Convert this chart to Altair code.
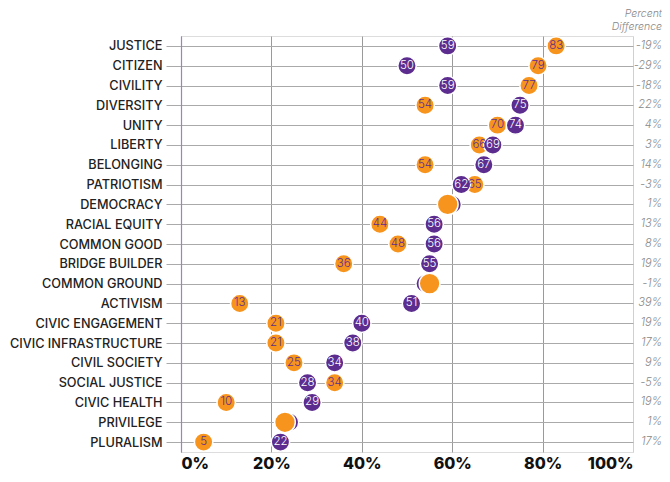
import altair as alt
import pandas as pd

categories = ["JUSTICE", "CITIZEN", "CIVILITY", "DIVERSITY", "UNITY", "LIBERTY",
              "BELONGING", "PATRIOTISM", "DEMOCRACY", "RACIAL EQUITY", "COMMON GOOD",
              "BRIDGE BUILDER", "COMMON GROUND", "ACTIVISM", "CIVIC ENGAGEMENT",
              "CIVIC INFRASTRUCTURE", "CIVIL SOCIETY", "SOCIAL JUSTICE", "CIVIC HEALTH",
              "PRIVILEGE", "PLURALISM"]
purple_vals = [59, 50, 59, 75, 74, 69, 67, 62, 60, 56, 56, 55, 54, 51, 40, 38, 34, 28, 29, 24, 22]
orange_vals = [83, 79, 77, 54, 70, 66, 54, 65, 59, 44, 48, 36, 55, 13, 21, 21, 25, 34, 10, 23, 5]
pct_diff = ["-19%", "-29%", "-18%", "22%", "4%", "3%", "14%", "-3%", "1%", "13%", "8%",
            "19%", "-1%", "39%", "19%", "17%", "9%", "-5%", "19%", "1%", "17%"]
x_ticks = [0, 20, 40, 60, 80, 100]
tied = ["DEMOCRACY", "COMMON GROUND", "PRIVILEGE"]

PURPLE = "#5c2d8f"
ORANGE = "#f7941d"

rows = []
for c, p, o in zip(categories, purple_vals, orange_vals):
    is_tied = c in tied
    rows.append({"cat": c, "series": "P", "val": p, "ord": 1 if is_tied else 2,
                 "tied": is_tied, "lbl": "" if is_tied else str(p)})
    rows.append({"cat": c, "series": "O", "val": o, "ord": 2 if is_tied else 1,
                 "tied": is_tied, "lbl": "" if is_tied else str(o)})
df = pd.DataFrame(rows)
df_diff = pd.DataFrame({"cat": categories, "diff": pct_diff})

W, H = 452, 416
LEFT, TOP = 173, 28

y_enc = alt.Y("cat:N", sort=categories, scale=alt.Scale(paddingOuter=0.5),
              axis=alt.Axis(title=None, labelFont="Inter", labelFontSize=12.7,
                            labelFontWeight=500, labelColor="#222",
                            labelPadding=4, tickSize=15, tickColor="#aaa",
                            domainColor="#9a85c4", domainWidth=1.2,
                            grid=True, gridColor="#aaa", gridWidth=1))
x_enc = alt.X("val:Q", scale=alt.Scale(domain=[0, 100], nice=False),
              axis=alt.Axis(title=None, values=x_ticks, labelExpr="datum.value + '%'",
                            labelFont="Inter", labelFontSize=16, labelFontWeight=800,
                            labelColor="#111", labelPadding=3, ticks=False, domain=False,
                            grid=True,
                            gridColor=alt.condition("datum.value == 100", alt.value("#d0d0d0"), alt.value("#9a9a9a")),
                            gridWidth=1))

base = alt.Chart(df)

circles = base.mark_circle(opacity=1, stroke="white", strokeWidth=1.5).encode(
    x=x_enc,
    y=y_enc,
    color=alt.Color("series:N", scale=alt.Scale(domain=["P", "O"], range=[PURPLE, ORANGE]), legend=None),
    size=alt.condition("datum.tied && datum.series == 'O'", alt.value(430), alt.value(340)),
    order=alt.Order("ord:Q"),
)

labels = base.mark_text(font="Inter", fontSize=11.5, fontWeight=300, baseline="middle", align="center").encode(
    x="val:Q",
    y=alt.Y("cat:N", sort=categories),
    text="lbl:N",
    color=alt.Color("series:N", scale=alt.Scale(domain=["P", "O"], range=["#ffffff", PURPLE]), legend=None),
    order=alt.Order("ord:Q"),
)

diff_text = alt.Chart(df_diff).mark_text(font="Inter", fontSize=11, fontStyle="italic",
                                         fontWeight=300, color="#888", align="right",
                                         baseline="middle").encode(
    x=alt.value(W + 29),
    y=alt.Y("cat:N", sort=categories),
    text="diff:N",
)

header = alt.Chart(pd.DataFrame({"t": ["Percent\nDifference"]})).mark_text(
    font="Inter", fontSize=10.5, fontStyle="italic", fontWeight=300, color="#888",
    align="right", baseline="middle", lineBreak="\n", lineHeight=13).encode(
    x=alt.value(W + 29),
    y=alt.value(-22),
    text="t:N",
)

chart = alt.layer(circles, labels, diff_text, header).resolve_scale(color="independent").properties(
    width=W, height=H,
    autosize=alt.AutoSizeParams(type="none"),
    padding={"left": LEFT, "top": TOP, "right": 654 - LEFT - W, "bottom": 466 - TOP - H},
).configure_view(stroke=None).configure(background="white")

chart.save("out.html", embed_options={"renderer": "svg", "actions": False})
